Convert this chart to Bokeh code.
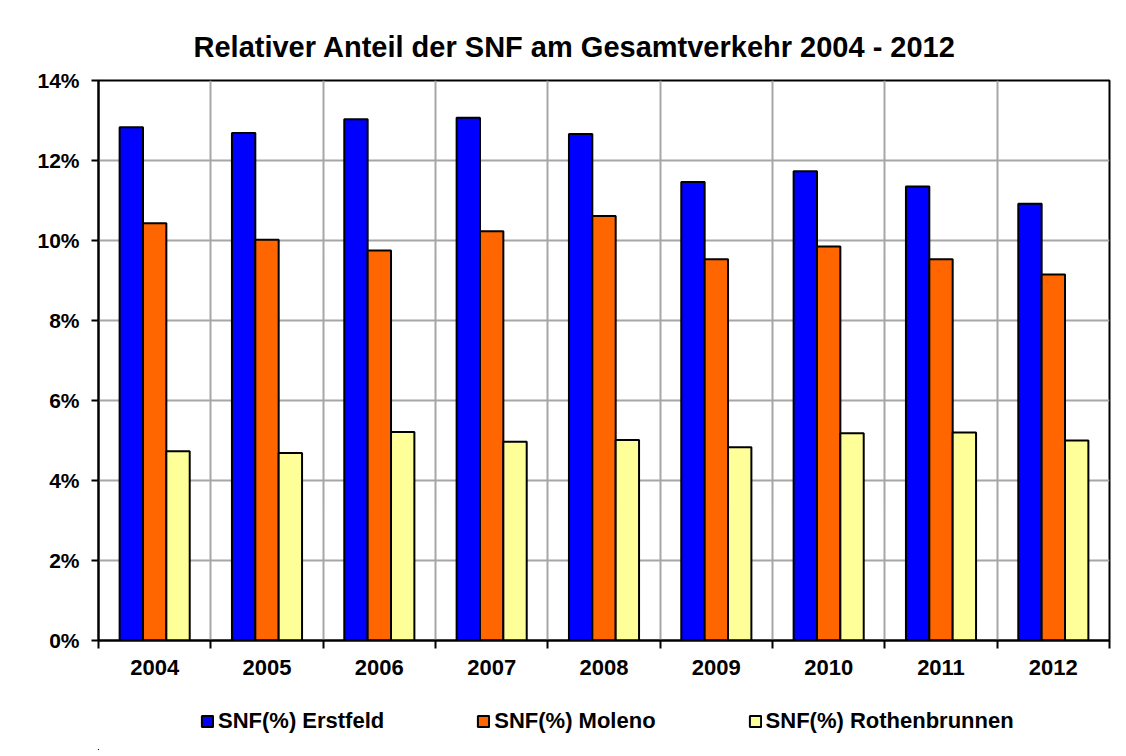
from bokeh.plotting import figure
from bokeh.layouts import column
from bokeh.models import FixedTicker, PrintfTickFormatter, Legend, LegendItem, Range1d
from bokeh.embed import file_html
from bokeh.resources import INLINE

years = ["2004", "2005", "2006", "2007", "2008", "2009", "2010", "2011", "2012"]
erstfeld = [12.83, 12.69, 13.03, 13.07, 12.66, 11.46, 11.73, 11.35, 10.92]
moleno = [10.43, 10.02, 9.75, 10.23, 10.61, 9.53, 9.85, 9.53, 9.15]
rothenbrunnen = [4.73, 4.69, 5.21, 4.97, 5.01, 4.83, 5.18, 5.20, 5.00]
series_names = ["SNF(%) Erstfeld", "SNF(%) Moleno", "SNF(%) Rothenbrunnen"]
colors = ["#0000FF", "#FF6600", "#FFFF99"]
y_ticks = [0, 2, 4, 6, 8, 10, 12, 14]

FONT = "Liberation Sans"
n = len(years)
centers = [i + 0.5 for i in range(n)]
bar_w = 0.208
offsets = [-bar_w, 0.0, bar_w]
all_series = [erstfeld, moleno, rothenbrunnen]

p = figure(frame_width=1011, frame_height=560, output_backend="svg", toolbar_location=None,
           x_range=Range1d(0, n), y_range=Range1d(0, 14),
           min_border_left=98, min_border_right=15, min_border_top=80, min_border_bottom=50)

p.title.text = "Relativer Anteil der SNF am Gesamtverkehr 2004 - 2012"
p.title.align = "left"
p.title.offset = 95
p.title.text_font = FONT
p.title.text_font_size = "29px"
p.title.text_font_style = "bold"
p.title.text_color = "#000000"
p.title.standoff = 36

for vals, off, col in zip(all_series, offsets, colors):
    p.vbar(x=[c + off for c in centers], top=vals, width=bar_w, bottom=0,
           fill_color=col, line_color="#000000", line_width=2)

# axes
p.xaxis.ticker = FixedTicker(ticks=centers, minor_ticks=list(range(n + 1)))
p.xaxis.major_label_overrides = {c: y for c, y in zip(centers, years)}
p.xaxis.major_tick_out = 0
p.xaxis.major_tick_in = 0
p.xaxis.minor_tick_out = 8
p.xaxis.minor_tick_in = 0
p.xaxis.minor_tick_line_color = "#000000"
p.xaxis.minor_tick_line_width = 2
p.xaxis.axis_line_color = "#000000"
p.xaxis.axis_line_width = 2
p.xaxis.major_label_text_font = FONT
p.xaxis.major_label_text_font_size = "22px"
p.xaxis.major_label_text_font_style = "bold"
p.xaxis.major_label_text_color = "#000000"
p.xaxis.major_label_standoff = 11

p.yaxis.ticker = FixedTicker(ticks=y_ticks)
p.yaxis.formatter = PrintfTickFormatter(format="%d%%")
p.yaxis.major_tick_out = 7
p.yaxis.major_tick_in = 0
p.yaxis.minor_tick_line_color = None
p.yaxis.major_tick_line_color = "#000000"
p.yaxis.major_tick_line_width = 2
p.yaxis.axis_line_color = "#000000"
p.yaxis.axis_line_width = 2
p.yaxis.major_label_text_font = FONT
p.yaxis.major_label_text_font_size = "21px"
p.yaxis.major_label_text_font_style = "bold"
p.yaxis.major_label_text_color = "#000000"
p.yaxis.major_label_standoff = 12

# grids
p.xgrid.grid_line_color = None
p.xgrid.minor_grid_line_color = "#a6a6a6"
p.xgrid.minor_grid_line_width = 2
p.ygrid.grid_line_color = "#a6a6a6"
p.ygrid.grid_line_width = 2

p.outline_line_color = "#000000"
p.outline_line_width = 2
p.background_fill_color = "#FFFFFF"
p.border_fill_color = "#FFFFFF"

# legend strip below the chart (series drawn out of view, only used for legend swatches)
lg = figure(width=1124, height=60, output_backend="svg", toolbar_location=None,
            x_range=Range1d(100, 101), y_range=Range1d(100, 101), min_border=0)
lg.axis.visible = False
lg.grid.visible = False
lg.outline_line_color = None
lg_renderers = []
for vals, off, col in zip(all_series, offsets, colors):
    lg_renderers.append(lg.vbar(x=[c + off for c in centers], top=vals, width=bar_w,
                                fill_color=col, line_color="#000000", line_width=2))

legend = Legend(items=[LegendItem(label=nm, renderers=[r]) for nm, r in zip(series_names, lg_renderers)],
                orientation="horizontal", location=(102, 16))
legend.label_text_font = FONT
legend.label_text_font_size = "22px"
legend.label_text_font_style = "bold"
legend.label_text_color = "#000000"
legend.glyph_width = 14
legend.glyph_height = 14
legend.label_standoff = 4
legend.spacing = 92
legend.border_line_color = None
legend.background_fill_alpha = 0
legend.padding = 0
legend.margin = 0
lg.add_layout(legend, "center")

layout = column(p, lg, spacing=0)
open("out.html", "w").write(file_html(layout, INLINE))
